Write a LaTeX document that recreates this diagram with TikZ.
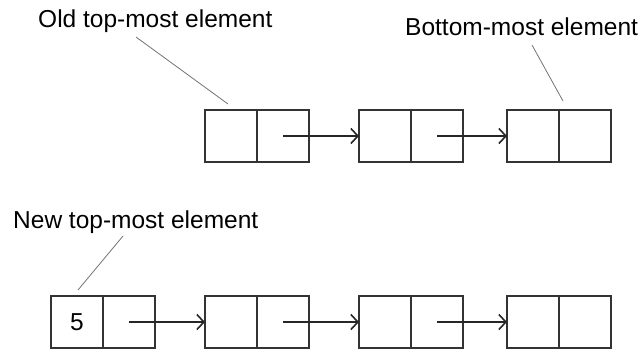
\documentclass[tikz,border=0pt]{standalone}
\usepackage{fontspec}
\setmainfont{Liberation Sans}
\usetikzlibrary{arrows.meta}
\begin{document}
\begin{tikzpicture}[x=1pt,y=-1pt,
  cell/.style={draw=black!80,line width=1.3pt,minimum width=52pt,minimum height=52pt,
    inner sep=0pt,outer sep=0pt,anchor=north west,font=\fontsize{24.5}{28}\selectfont},
  label/.style={anchor=base west,inner sep=0pt,font=\fontsize{24.5}{28}\selectfont},
  link/.style={draw=black!85,line width=1.6pt,-{Straight Barb[length=7pt,width=15pt,line width=1.6pt]}},
  leader/.style={draw=black!55,line width=0.8pt}]
\useasboundingbox (0,0) rectangle (643,349);

% old list
\node[cell] (a1) at (205,110) {};
\node[cell] (a2) at (257,110) {};
\node[cell] (b1) at (359,110) {};
\node[cell] (b2) at (411,110) {};
\node[cell] (c1) at (507,110) {};
\node[cell] (c2) at (559,110) {};

% list after the push
\node[cell] (d1) at (51,296) {5};
\node[cell] (d2) at (103,296) {};
\node[cell] (e1) at (205,296) {};
\node[cell] (e2) at (257,296) {};
\node[cell] (f1) at (359,296) {};
\node[cell] (f2) at (411,296) {};
\node[cell] (g1) at (507,296) {};
\node[cell] (g2) at (559,296) {};

% next pointers
\draw[link] (a2.center) -- (b1.west);
\draw[link] (b2.center) -- (c1.west);
\draw[link] (d2.center) -- (e1.west);
\draw[link] (e2.center) -- (f1.west);
\draw[link] (f2.center) -- (g1.west);

% captions
\node[label] (old) at (38,27) {Old top-most element};
\node[label] (bot) at (405,35) {Bottom-most element};
\node[label] (new) at (13,228) {New top-most element};

\coordinate (oldS) at (136,37);  \coordinate (oldE) at (228,104);
\coordinate (botS) at (532,45);  \coordinate (botE) at (563,101);
\coordinate (newS) at (123,236); \coordinate (newE) at (78,290);
\draw[leader] (oldS) -- (oldE);
\draw[leader] (botS) -- (botE);
\draw[leader] (newS) -- (newE);
\end{tikzpicture}
\end{document}
